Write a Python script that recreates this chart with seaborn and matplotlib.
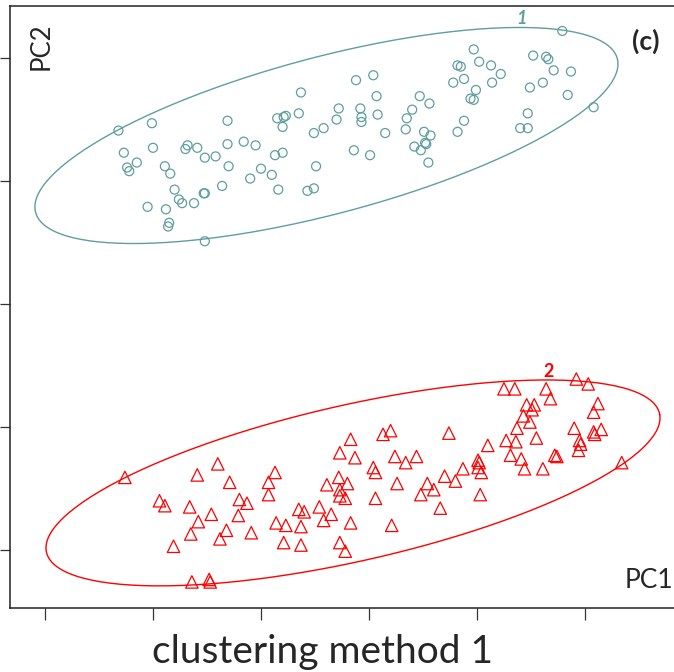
import numpy as np
import pandas as pd
import seaborn as sns
import matplotlib.pyplot as plt

# PCA scores (cluster 1 = circles, cluster 2 = triangles)
pc1_cluster1 = [-1.32, -1.01, -0.31, 0.15, -1.27, -1.00, -0.68, -0.70, -0.59, -0.31,
                -0.16, -0.05, 0.13, -1.15, -1.24, -1.22, -0.89, -0.84, -0.52, -0.42,
                -0.30, 0.00, -0.10, 0.10, -0.80, -0.36, -0.53, -0.52, -0.76, -0.73,
                -0.62, -1.05, -0.88, -0.85, -0.86, -0.52, 0.16, 0.88, 1.04, 0.37,
                1.07, 1.47, 1.56, 0.21, 0.23, 0.20, 0.35, 0.72, 0.92, 0.93,
                0.93, 1.08, 1.40, 1.35, 0.70, 0.58, 0.49, 1.15, 1.34, 1.51,
                1.57, 1.52, 1.53, 1.42, 1.48, 1.55, 0.86, 1.01, 0.20, 0.51,
                0.43, 0.49, 2.79, 1.97, 2.52, 2.64, 2.66, 1.82, 1.85, 2.02,
                2.13, 2.22, 2.71, 2.87, 1.78, 1.88, 2.14, 2.61, 2.49, 1.99,
                1.94, 1.97, 2.84, 3.08, 2.47, 1.88, 1.82, 2.40, 2.47]
pc2_cluster1 = [1.41, 1.47, 1.49, 1.51, 1.23, 1.27, 1.29, 1.26, 1.27, 1.30,
                1.32, 1.29, 1.21, 1.15, 1.11, 1.08, 1.12, 1.06, 1.19, 1.20,
                1.12, 1.10, 1.02, 1.05, 0.93, 0.96, 0.90, 0.90, 0.85, 0.82,
                0.82, 0.79, 0.77, 0.66, 0.63, 0.51, 0.93, 1.82, 1.86, 1.72,
                1.69, 1.69, 1.63, 1.52, 1.53, 1.44, 1.55, 1.59, 1.59, 1.52,
                1.48, 1.54, 1.58, 1.51, 1.50, 1.43, 1.39, 1.39, 1.42, 1.40,
                1.37, 1.31, 1.30, 1.28, 1.25, 1.15, 1.25, 1.21, 1.23, 1.12,
                0.92, 0.94, 2.22, 2.07, 2.02, 2.01, 1.99, 1.94, 1.93, 1.97,
                1.94, 1.87, 1.90, 1.89, 1.80, 1.83, 1.80, 1.80, 1.76, 1.74,
                1.67, 1.66, 1.70, 1.60, 1.55, 1.49, 1.40, 1.43, 1.43]

pc1_cluster2 = [-1.26, -0.40, -0.59, -0.29, 0.13, 0.07, 0.07, -0.94, -0.89, -0.66,
                -0.20, -0.13, -0.46, -0.21, -0.58, -0.32, -0.65, -0.38, -0.09, 0.14,
                0.23, 0.21, -0.81, -0.64, -0.48, -0.47, 1.13, 1.20, 1.74, 0.83,
                0.73, 0.87, 1.24, 1.34, 1.44, 1.04, 1.06, 1.70, 1.80, 0.72,
                0.80, 0.61, 0.73, 0.73, 0.78, 1.26, 1.54, 1.60, 1.48, 1.06,
                1.66, 0.54, 0.35, 0.40, 0.65, 0.58, 0.83, 1.21, 0.37, 0.37,
                0.73, 0.78, 2.92, 3.03, 2.25, 2.35, 2.64, 2.68, 3.12, 3.08,
                2.46, 2.53, 2.51, 2.43, 2.49, 2.37, 2.90, 3.15, 3.08, 3.09,
                2.55, 2.27, 2.36, 2.95, 2.96, 2.10, 2.94, 2.31, 2.41, 2.72,
                2.74, 2.01, 2.02, 2.01, 2.04, 1.87, 2.44, 2.61, 2.03, 3.34]
pc2_cluster2 = [-1.41, -1.30, -1.39, -1.45, -1.37, -1.45, -1.55, -1.60, -1.64, -1.65,
                -1.59, -1.62, -1.71, -1.72, -1.77, -1.84, -1.87, -1.91, -1.86, -1.78,
                -1.80, -1.94, -1.97, -2.26, -2.24, -2.26, -1.06, -1.03, -1.05, -1.10,
                -1.21, -1.25, -1.24, -1.29, -1.24, -1.33, -1.37, -1.40, -1.44, -1.41,
                -1.46, -1.47, -1.51, -1.56, -1.58, -1.46, -1.46, -1.51, -1.55, -1.58,
                -1.66, -1.65, -1.67, -1.69, -1.71, -1.76, -1.78, -1.80, -1.81, -1.96,
                -1.94, -2.01, -0.61, -0.65, -0.69, -0.69, -0.69, -0.77, -0.81, -0.88,
                -0.82, -0.82, -0.86, -0.91, -0.96, -1.01, -1.01, -1.02, -1.04, -1.06,
                -1.09, -1.11, -1.12, -1.11, -1.14, -1.15, -1.19, -1.23, -1.26, -1.23,
                -1.24, -1.27, -1.29, -1.33, -1.37, -1.34, -1.34, -1.34, -1.55, -1.29]

cluster_names = ['1', '2']
cluster_colors = ['#5F9EA0', '#FF0000']
cluster_markers = ['o', '^']

# cluster ellipses (centre, semi-axes, rotation in degrees)
ellipse_cx = [0.606, 0.852]
ellipse_cy = [1.370, -1.455]
ellipse_major = [2.765, 2.894]
ellipse_minor = [0.643, 0.638]
ellipse_angle = [12.86, 11.07]

df = pd.DataFrame({
    'PC1': pc1_cluster1 + pc1_cluster2,
    'PC2': pc2_cluster1 + pc2_cluster2,
    'cluster': ['1'] * len(pc1_cluster1) + ['2'] * len(pc1_cluster2),
})


def ellipse_points(cx, cy, a, b, angle, segments=240):
    t = np.linspace(0, 2 * np.pi, segments)
    th = np.deg2rad(angle)
    ex = cx + a * np.cos(t) * np.cos(th) - b * np.sin(t) * np.sin(th)
    ey = cy + a * np.cos(t) * np.sin(th) + b * np.sin(t) * np.cos(th)
    return ex, ey


sns.set_style('white')
plt.rcParams['font.family'] = ['Lato', 'DejaVu Sans']

fig = plt.figure(figsize=(6.74, 6.72), dpi=100)
ax = fig.add_axes([10 / 674, 64 / 672, 690 / 674, 602 / 672])

for i, (name, col, mk) in enumerate(zip(cluster_names, cluster_colors, cluster_markers)):
    sub = df[df['cluster'] == name]
    size = 42 if mk == 'o' else 80
    sns.scatterplot(data=sub, x='PC1', y='PC2', marker=mk, s=size,
                    facecolor='none', edgecolor=col, linewidth=0.9, ax=ax,
                    legend=False)
    ex, ey = ellipse_points(ellipse_cx[i], ellipse_cy[i], ellipse_major[i],
                            ellipse_minor[i], ellipse_angle[i])
    ax.plot(ex, ey, color=col, lw=1.0)
    top = np.argmax(ey)
    ax.annotate(name, (ex[top], ey[top]), xytext=(1, 0), textcoords='offset points',
                ha='center', va='bottom', color=col, fontsize=13, fontweight='bold',
                fontstyle='italic' if name == '1' else 'normal')

ax.set_xlim(-2.324, 4.065)
ax.set_ylim(-2.472, 2.423)
ax.set_xticks(np.arange(-2, 4))
ax.set_yticks(np.arange(-2, 3))
ax.set_xticklabels([])
ax.set_yticklabels([])
ax.set_xlabel('')
ax.set_ylabel('')
ax.tick_params(axis='x', direction='out', length=8.6, width=0.9, color='#333333', bottom=True)
ax.tick_params(axis='y', direction='out', length=7.2, width=0.9, color='#333333', left=True)
for side in ['left', 'bottom', 'top']:
    ax.spines[side].set_color('#222222')
    ax.spines[side].set_linewidth(1.1)
ax.spines['right'].set_visible(False)

fig.text(41 / 674, 1 - 46 / 672, 'PC2', rotation=90, ha='center', va='center',
         fontsize=18.5)
fig.text(673 / 674, 1 - 581 / 672, 'PC1', ha='right', va='center', fontsize=19)
fig.text(646 / 674, 1 - 41 / 672, '(c)', ha='center', va='center', fontsize=19,
         fontweight='bold')
fig.text(322 / 674, 1 - 652 / 672, 'clustering method 1', ha='center', va='center',
         fontsize=28)

fig.savefig('out.png', dpi=100)
